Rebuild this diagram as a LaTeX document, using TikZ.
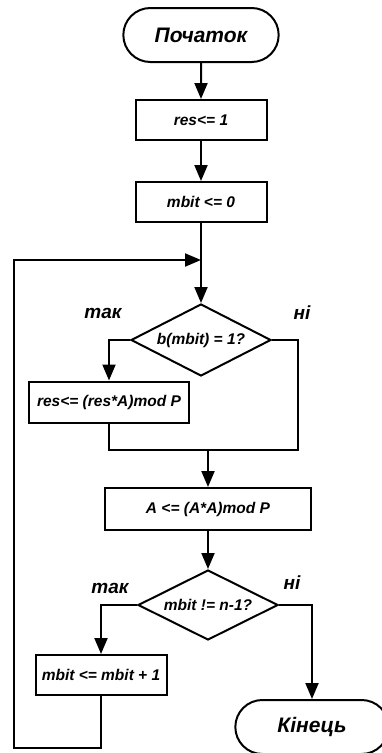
\documentclass[tikz,border=0pt]{standalone}
\usepackage{fontspec}
\setmainfont{Liberation Sans}
\usetikzlibrary{positioning, shapes.geometric, shapes.misc, arrows.meta}
\tikzset{term node/.style={rounded rectangle,draw,line width=2pt,minimum width=162pt,minimum height=54pt,font=\bfseries\itshape\fontsize{21}{24}\selectfont},
  op node/.style={rectangle,draw,line width=2pt,minimum height=40pt,inner sep=2pt,font=\bfseries\itshape\fontsize{15.5}{18}\selectfont},
  cond node/.style={diamond,draw,line width=2pt,aspect=2,inner sep=0pt,minimum width=140pt,minimum height=72pt,font=\bfseries\itshape\fontsize{15.5}{18}\selectfont},
  branch/.style={font=\bfseries\itshape\fontsize{19}{22}\selectfont},
  link/.style={draw,line width=2pt},
  flow/.style={link,-{Triangle[length=16pt,width=13pt]}}}

\begin{document}
\begin{tikzpicture}[x=1pt,y=1pt]
  \useasboundingbox (0,0) rectangle (382,-753);
  \clip (0,0) rectangle (382,-753);
  \node[term node] (start) at (201,-35) {Початок};
  \node[op node, minimum width=131pt] (res1) [below = 36pt of start] {res<= 1};
  \node[op node, minimum width=131pt] (mbit0) [below = 40pt of res1] {mbit <= 0};
  \node[cond node] (bit) [below = 80pt of mbit0] {b(mbit) = 1?};
  \node[op node, minimum width=160pt, minimum height=41pt] (mul) at (109,-402) {res<= (res*A)mod P};
  \node[op node, minimum width=206pt, minimum height=42pt] (sq) at (208,-509) {A <= (A*A)mod P};
  \node[cond node, minimum height=70pt] (last) [below = 38pt of sq] {mbit != n-1?};
  \node[op node, minimum width=131pt] (inc) at (101,-675) {mbit <= mbit + 1};
  \node[term node, minimum width=160pt] (stop) at (312,-727) {Кінець};

  % branch labels
  \node[branch] (yes1) at (103,-313) {так};
  \node[branch] (no1) at (302,-313) {ні};
  \node[branch] (yes2) at (110,-588) {так};
  \node[branch] (no2) at (292,-583) {ні};

  \coordinate (join) at (298,-450);
  \coordinate (merge) at (sq.north |- join);
  \coordinate (back) at (201,-260);
  \coordinate (low) at (14,-748);

  \draw[flow] (start) -- (res1);
  \draw[flow] (res1) -- (mbit0);
  \draw[flow] (mbit0) -- (bit);
  \draw[flow] (bit.west) -| (mul.north);
  \draw[link] (bit.east) -| (join) -| (mul.south);
  \draw[flow] (merge) -- (sq);
  \draw[flow] (sq) -- (last);
  \draw[flow] (last.west) -| (inc.north);
  \draw[flow] (last.east) -| (stop.north);
  \draw[flow] (inc.south) |- (low) |- (back);
\end{tikzpicture}
\end{document}
